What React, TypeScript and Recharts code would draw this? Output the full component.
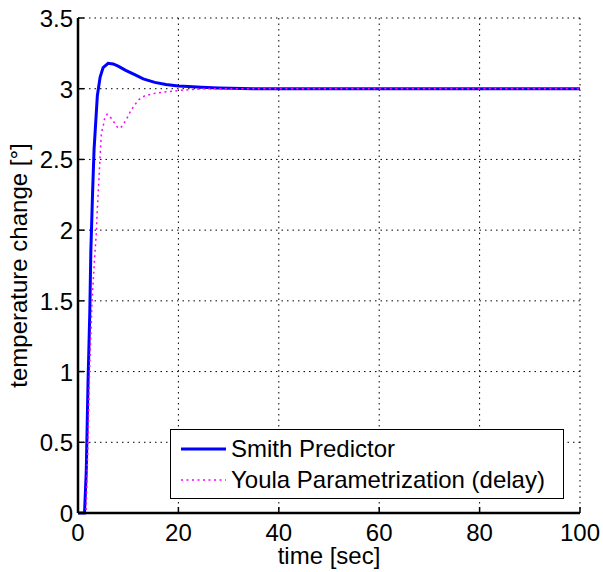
import React from 'react';
import { LineChart, Line, XAxis, YAxis, CartesianGrid, Legend } from 'recharts';

const FONT = '"Liberation Sans", Arial, Helvetica, sans-serif';

// Smith Predictor step response
const smithTime = [0, 1.3, 1.65, 2.0, 2.35, 2.55, 2.9, 3.2, 3.85, 4.4, 5.0, 6.0, 7.0, 8.0, 9.5, 11.3, 13.0, 15.3, 17.5, 20.0, 22.0, 24.6, 28.0, 35.0, 50.0, 100.0];
const smithValue = [0, 0, 0.3, 0.93, 1.42, 1.84, 2.26, 2.57, 2.95, 3.08, 3.15, 3.18, 3.175, 3.16, 3.13, 3.1, 3.07, 3.045, 3.03, 3.02, 3.015, 3.01, 3.005, 3.0, 3.0, 3.0];

// Youla parametrization (delay) step response
const youlaTime = [0, 1.6, 2.0, 2.3, 2.8, 3.3, 3.65, 3.85, 4.1, 4.3, 4.45, 4.66, 5.0, 5.3, 5.8, 6.65, 8.0, 8.65, 9.6, 10.6, 12.0, 13.3, 15.6, 18.0, 21.0, 25.0, 100.0];
const youlaValue = [0, 0, 0.5, 1.0, 1.5, 1.8, 1.98, 2.15, 2.31, 2.45, 2.55, 2.69, 2.73, 2.79, 2.82, 2.79, 2.72, 2.73, 2.78, 2.85, 2.92, 2.95, 2.97, 2.98, 2.99, 3.0, 3.0];

const xTicks = [0, 20, 40, 60, 80, 100];
const yTicks = [0, 0.5, 1, 1.5, 2, 2.5, 3, 3.5];

const smithData = smithTime.map((t, i) => ({ t, v: smithValue[i] }));
const youlaData = youlaTime.map((t, i) => ({ t, v: youlaValue[i] }));

const BottomTick = (props: any) => {
  const { x, y, payload } = props;
  return (
    <g>
      <line x1={x} y1={y} x2={x} y2={y - 6} stroke="#000" strokeWidth={1.5} />
      <text x={x} y={y + 28} textAnchor="middle" fontSize={24} fontFamily={FONT} fill="#000">
        {payload.value}
      </text>
    </g>
  );
};

const LeftTick = (props: any) => {
  const { x, y, payload } = props;
  return (
    <g>
      <line x1={x} y1={y} x2={x + 6} y2={y} stroke="#000" strokeWidth={1.5} />
      <text x={x - 5} y={y + 9} textAnchor="end" fontSize={24} fontFamily={FONT} fill="#000">
        {payload.value}
      </text>
    </g>
  );
};

const TopTick = (props: any) => {
  const { x, y } = props;
  return <line x1={x} y1={y} x2={x} y2={y + 6} stroke="#000" strokeWidth={1.5} />;
};

const RightTick = (props: any) => {
  const { x, y } = props;
  return <line x1={x} y1={y} x2={x - 6} y2={y} stroke="#000" strokeWidth={1.5} />;
};

const LegendBox = () => (
  <div
    style={{
      width: 392,
      height: 68,
      border: '1px solid #000',
      background: '#fff',
      fontFamily: FONT,
      fontSize: 24,
      color: '#000',
      position: 'relative',
    }}
  >
    <svg width={60} height={68} style={{ position: 'absolute', left: 0, top: 0 }}>
      <line x1={10} y1={19} x2={55} y2={19} stroke="#0000ff" strokeWidth={3} />
      <line x1={10} y1={50} x2={55} y2={50} stroke="#ff00ff" strokeWidth={1.5} strokeDasharray="2 3.5" />
    </svg>
    <div style={{ position: 'absolute', left: 60, top: 5, lineHeight: '28px', whiteSpace: 'nowrap' }}>Smith Predictor</div>
    <div style={{ position: 'absolute', left: 60, top: 36, lineHeight: '28px', whiteSpace: 'nowrap' }}>
      Youla Parametrization (delay)
    </div>
  </div>
);

export default function App() {
  return (
    <div style={{ position: 'absolute', left: 0, top: 0, width: 603, height: 572, background: '#fff' }}>
      <LineChart width={603} height={572} margin={{ top: 18, right: 23, bottom: 19, left: 18 }}>
        <CartesianGrid stroke="#000" strokeDasharray="1.5 4" strokeWidth={1} xAxisId="x" yAxisId="y" />
        <XAxis
          xAxisId="x"
          dataKey="t"
          type="number"
          domain={[0, 100]}
          ticks={xTicks}
          allowDuplicatedCategory={false}
          height={40}
          tickSize={0}
          tickMargin={0}
          tickLine={false}
          axisLine={{ stroke: '#000', strokeWidth: 2.5 }}
          tick={<BottomTick />}
          label={{ value: 'time [sec]', position: 'insideBottom', offset: -11, fontSize: 24, fontFamily: FONT, fill: '#000' }}
        />
        <XAxis
          xAxisId="top"
          orientation="top"
          dataKey="t"
          type="number"
          domain={[0, 100]}
          ticks={xTicks}
          allowDuplicatedCategory={false}
          height={0}
          tickSize={0}
          tickMargin={0}
          tickLine={false}
          axisLine={{ stroke: '#000', strokeWidth: 2.5 }}
          tick={<TopTick />}
        />
        <YAxis
          yAxisId="y"
          type="number"
          domain={[0, 3.5]}
          ticks={yTicks}
          width={60}
          tickSize={0}
          tickMargin={0}
          tickLine={false}
          axisLine={{ stroke: '#000', strokeWidth: 2.5 }}
          tick={<LeftTick />}
          label={{
            value: 'temperature change [°]',
            angle: -90,
            position: 'center',
            dx: -30,
            fontSize: 24,
            fontFamily: FONT,
            fill: '#000',
          }}
        />
        <YAxis
          yAxisId="right"
          orientation="right"
          type="number"
          domain={[0, 3.5]}
          ticks={yTicks}
          width={0}
          tickSize={0}
          tickMargin={0}
          tickLine={false}
          axisLine={{ stroke: '#000', strokeWidth: 2.5 }}
          tick={<RightTick />}
        />
        <Line
          xAxisId="x"
          yAxisId="y"
          data={smithData}
          dataKey="v"
          name="Smith Predictor"
          type="linear"
          stroke="#0000ff"
          strokeWidth={3}
          dot={false}
          isAnimationActive={false}
        />
        <Line
          xAxisId="x"
          yAxisId="y"
          data={youlaData}
          dataKey="v"
          name="Youla Parametrization (delay)"
          type="linear"
          stroke="#ff00ff"
          strokeWidth={1.5}
          strokeDasharray="2 3.5"
          dot={false}
          isAnimationActive={false}
        />
        <Legend
          layout="horizontal"
          verticalAlign="middle"
          align="center"
          content={<LegendBox />}
          wrapperStyle={{ left: 170, top: 429, width: 394, height: 70 }}
        />
      </LineChart>
    </div>
  );
}
